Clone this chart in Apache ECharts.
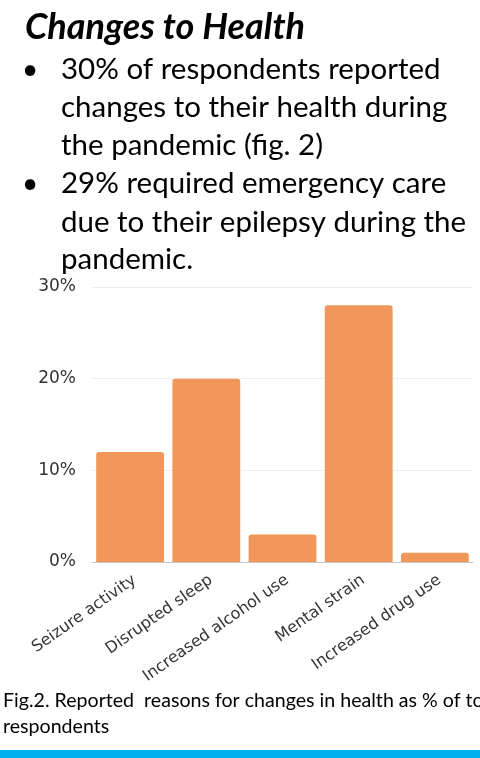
<!DOCTYPE html>
<html>
<head>
<meta charset="utf-8">
<style>
  html, body { margin: 0; padding: 0; background: #fff; }
  #chart { width: 480px; height: 758px; }
</style>
<script src="https://cdn.jsdelivr.net/npm/echarts@6/dist/echarts.min.js"></script>
</head>
<body>
<div id="chart"></div>
<script>
// data
const categories = ["Seizure activity", "Disrupted sleep", "Increased alcohol use", "Mental strain", "Increased drug use"];
const percentValues = [12, 20, 3, 28, 1];
const yTicks = [0, 10, 20, 30];

const headline = "Changes to Health";
const bulletLines = [
    ["30% of respondents reported", true],
    ["changes to their health during", false],
    ["the pandemic (fig. 2)", false],
    ["29% required emergency care", true],
    ["due to their epilepsy during the", false],
    ["pandemic.", false]
];
const lineBaselines = [79, 117, 155, 193, 232, 269];
const captionLines = ["Fig.2. Reported  reasons for changes in health as % of total", "respondents"];

const textFont = "Lato, 'Open Sans', sans-serif";
const axisFont = "DejaVu Sans";

const chart = echarts.init(document.getElementById("chart"));

const graphics = [];
graphics.push({
    type: "text",
    style: { text: headline, x: 25, y: 27.5, font: "italic bold 36px " + textFont, fill: "#000", verticalAlign: "middle" }
});
bulletLines.forEach((line, i) => {
    const y = lineBaselines[i] - 9.5;
    if (line[1]) {
        graphics.push({
            type: "text",
            style: { text: "•", x: 22, y: y, font: "28px " + textFont, fill: "#000", verticalAlign: "middle" }
        });
    }
    graphics.push({
        type: "text",
        style: { text: line[0], x: 61, y: y, font: "29.5px " + textFont, fill: "#000", verticalAlign: "middle" }
    });
});
captionLines.forEach((line, i) => {
    graphics.push({
        type: "text",
        style: { text: line, x: 3, y: 701 + i * 26, font: "19.6px " + textFont, fill: "#000", verticalAlign: "middle" }
    });
});
graphics.push({
    type: "rect",
    shape: { x: 0, y: 750, width: 480, height: 8 },
    style: { fill: "#00B0F0" }
});

const option = {
    animation: false,
    grid: { left: 92, right: 7, top: 287, bottom: 196 },
    xAxis: {
        type: "category",
        data: categories,
        axisLine: { lineStyle: { color: "#c8c8c8" } },
        axisTick: { show: false },
        axisLabel: {
            rotate: 35, margin: 10, fontSize: 16, fontFamily: axisFont, color: "#333",
            interval: 0, verticalAlign: "top"
        }
    },
    yAxis: {
        type: "value",
        min: yTicks[0],
        max: yTicks[yTicks.length - 1],
        interval: 10,
        axisLine: { show: false },
        axisTick: { show: false },
        axisLabel: { formatter: "{value}%", fontSize: 17, fontFamily: axisFont, color: "#333", margin: 16 },
        splitLine: { lineStyle: { color: "#efefef" } }
    },
    series: [{
        type: "bar",
        data: percentValues,
        barCategoryGap: "11%",
        itemStyle: { color: "#F2975A", borderRadius: [3, 3, 0, 0] }
    }],
    graphic: graphics
};

chart.setOption(option);
</script>
</body>
</html>
